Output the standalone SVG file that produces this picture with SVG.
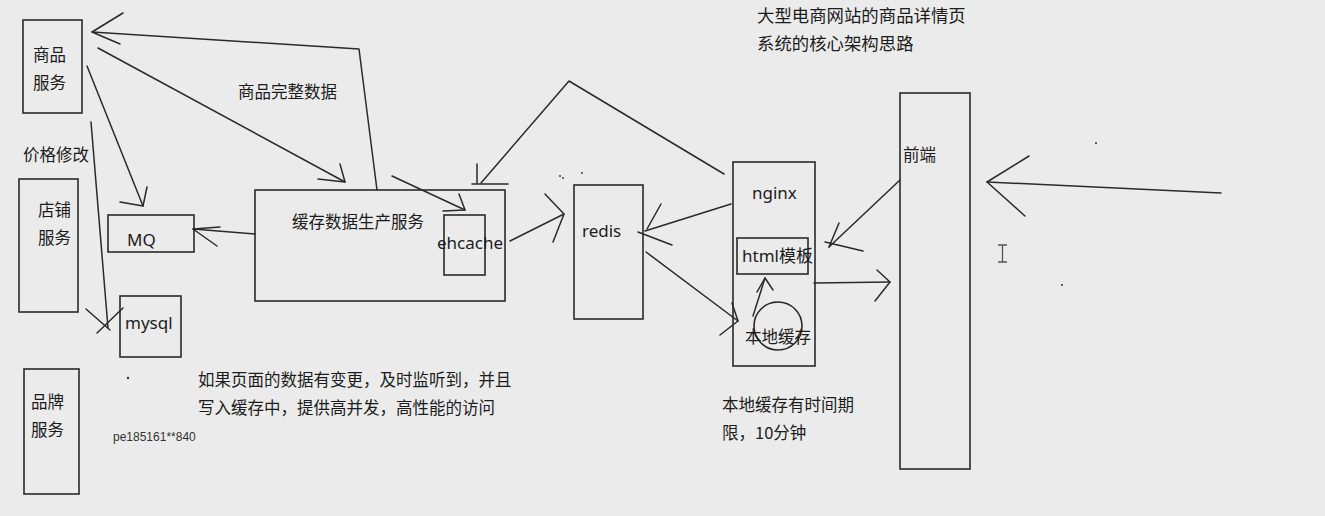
<svg xmlns="http://www.w3.org/2000/svg" width="1325" height="516" viewBox="0 0 1325 516">
<style>
.bx{fill:none;stroke:#2a2a2a;stroke-width:1.6}
.ln{fill:none;stroke:#2a2a2a;stroke-width:1.5;stroke-linecap:round;stroke-linejoin:round}
.t{font-family:"Noto Sans CJK SC","Noto Sans",sans-serif;font-size:16.5px;fill:#1c1c1c}
.h{font-family:"Noto Sans CJK SC","Noto Sans",sans-serif;font-size:17.4px;fill:#1c1c1c}
.e{font-family:"Noto Sans","Noto Sans CJK SC",sans-serif;font-size:17px;fill:#1c1c1c}
.s{font-family:"Liberation Sans",sans-serif;font-size:12px;fill:#333}
</style>
<rect width="1325" height="516" fill="#ebebeb"/>
<g id="title">
<text class="h" x="757" y="22">大型电商网站的商品详情页</text>
<text class="h" x="757" y="50">系统的核心架构思路</text>
</g>
<g id="goods-service"><rect class="bx" x="23" y="20" width="59" height="93"/><text class="t" x="33" y="61">商品</text><text class="t" x="33" y="89">服务</text></g>
<g id="price-label"><text class="t" x="23" y="161">价格修改</text></g>
<g id="shop-service"><rect class="bx" x="19" y="179" width="59" height="133"/><text class="t" x="38" y="216">店铺</text><text class="t" x="38" y="244">服务</text></g>
<g id="mq"><rect class="bx" x="108" y="215" width="86" height="37"/><text class="e" x="127" y="246">MQ</text></g>
<g id="mysql"><rect class="bx" x="120" y="296" width="61" height="61"/><text class="e" x="125" y="329">mysql</text></g>
<g id="brand-service"><rect class="bx" x="24" y="369" width="55" height="125"/><text class="t" x="31" y="408">品牌</text><text class="t" x="31" y="436">服务</text></g>
<g id="cache-producer"><rect class="bx" x="255" y="190" width="250" height="111"/><text class="t" x="292" y="228">缓存数据生产服务</text></g>
<g id="ehcache"><rect class="bx" x="444" y="215" width="41" height="60"/><text class="e" x="437" y="249">ehcache</text></g>
<g id="redis"><rect class="bx" x="574" y="185" width="69" height="134"/><text class="e" x="582" y="237">redis</text></g>
<g id="nginx"><rect class="bx" x="733" y="162" width="82" height="204"/><text class="e" x="752" y="199">nginx</text></g>
<g id="html-template"><rect class="bx" x="737" y="238" width="71" height="36"/><text class="e" x="742" y="262">html模板</text></g>
<g id="local-cache"><circle class="bx" cx="778" cy="326" r="24"/><text class="t" x="745" y="343">本地缓存</text></g>
<g id="frontend"><rect class="bx" x="900" y="93" width="70" height="376"/><text class="t" x="903" y="161">前端</text></g>
<g id="labels">
<text class="t" x="238" y="98">商品完整数据</text>
<text class="t" x="198" y="386">如果页面的数据有变更，及时监听到，并且</text>
<text class="t" x="198" y="414">写入缓存中，提供高并发，高性能的访问</text>
<text class="s" x="113" y="441">pe185161**840</text>
<text class="t" x="722" y="411">本地缓存有时间期</text>
<text class="t" x="722" y="439">限，10分钟</text>
</g>
<g id="connectors">
<polyline class="ln" points="377,190 359,49 92,32"/>
<polyline class="ln" points="123,13 92,32 120,44"/>
<line class="ln" x1="98" y1="48" x2="345" y2="182"/>
<polyline class="ln" points="340,164 345,182 318,179"/>
<line class="ln" x1="87" y1="66" x2="143" y2="206"/>
<polyline class="ln" points="147,187 143,206 120,202"/>
<line class="ln" x1="91" y1="122" x2="108" y2="328"/>
<line class="ln" x1="86" y1="309" x2="110" y2="330"/>
<line class="ln" x1="97" y1="333" x2="123" y2="308"/>
<line class="ln" x1="255" y1="234" x2="193" y2="229"/>
<polyline class="ln" points="220,227 193,229 217,246"/>
<line class="ln" x1="392" y1="176" x2="465" y2="210"/>
<polyline class="ln" points="459,194 465,210 443,211"/>
<polyline class="ln" points="724,174 569,81 481,183"/>
<line class="ln" x1="472" y1="184" x2="508" y2="184"/>
<line class="ln" x1="477" y1="164" x2="477" y2="183"/>
<line class="ln" x1="510" y1="241" x2="564" y2="214"/>
<polyline class="ln" points="545,194 564,214 553,242"/>
<line class="ln" x1="731" y1="204" x2="645" y2="231"/>
<line class="ln" x1="661" y1="204" x2="647" y2="229"/>
<line class="ln" x1="672" y1="245" x2="638" y2="232"/>
<line class="ln" x1="646" y1="252" x2="738" y2="321"/>
<polyline class="ln" points="732,303 738,321 720,335"/>
<line class="ln" x1="753" y1="316" x2="765" y2="278"/>
<polyline class="ln" points="757,292 765,278 773,290"/>
<line class="ln" x1="900" y1="180" x2="829" y2="247"/>
<line class="ln" x1="839" y1="223" x2="829" y2="247"/>
<line class="ln" x1="825" y1="242" x2="863" y2="251"/>
<line class="ln" x1="814" y1="283" x2="890" y2="282"/>
<polyline class="ln" points="877,270 890,282 875,301"/>
<line class="ln" x1="1221" y1="193" x2="987" y2="182"/>
<polyline class="ln" points="1029,156 987,182 1025,216"/>
</g>
<g id="marks" fill="#333">
<circle cx="128" cy="378" r="1.2"/>
<circle cx="563" cy="178" r="0.9"/>
<circle cx="560" cy="176" r="0.9"/>
<circle cx="582" cy="173" r="0.9"/>
<circle cx="1096" cy="143" r="1"/>
<circle cx="1062" cy="285" r="1"/>
<path d="M998 245h9M1002.5 245v17M998 262h9" stroke="#555" stroke-width="1.3" fill="none"/>
</g>
</svg>
